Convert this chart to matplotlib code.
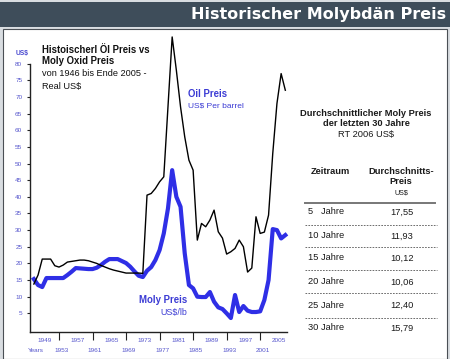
import matplotlib
matplotlib.use("Agg")
import matplotlib.pyplot as plt
from matplotlib.patches import Rectangle
from matplotlib.lines import Line2D

plt.rcParams['font.family'] = ['Liberation Sans', 'DejaVu Sans']

# ---- data (annual) ----
years = list(range(1947, 2008))
oil = [13.8, 16.5, 21.3, 21.3, 21.3, 19.3, 18.9, 19.5, 20.4, 20.6,
       20.8, 21.0, 21.0, 20.8, 20.4, 20.0, 19.4, 18.9, 18.4, 18.0,
       17.7, 17.4, 17.1, 17.1, 17.1, 17.1, 17.0, 40.5, 41.0, 42.5,
       44.5, 46.0, 67.0, 88.0, 78.0, 67.0, 58.0, 51.0, 48.0, 27.0,
       32.0, 31.0, 33.0, 36.0, 29.5, 27.6, 22.8, 23.5, 24.5, 27.0,
       25.0, 17.4, 18.6, 34.0, 29.0, 29.4, 34.5, 53.0, 68.0, 77.0,
       72.0]
moly = [15.3, 13.5, 12.9, 15.6, 15.6, 15.6, 15.6, 15.6, 16.5, 17.5,
        18.6, 18.5, 18.4, 18.3, 18.3, 18.7, 19.5, 20.5, 21.3, 21.3,
        21.3, 20.7, 20.1, 19.0, 17.6, 16.3, 15.9, 17.8, 18.9, 21.0,
        24.0, 29.0, 36.5, 48.0, 40.0, 37.0, 23.0, 13.5, 12.5, 10.0,
        9.9, 9.9, 11.4, 8.5, 6.8, 6.3, 5.0, 3.6, 10.5, 5.4,
        7.2, 5.8, 5.4, 5.4, 5.6, 9.0, 15.0, 30.3, 30.0, 27.5,
        28.5]
y_ticks = list(range(5, 85, 5))
x_tick_years = [1953, 1961, 1969, 1977, 1985, 1993, 2001]
x_label_top = [1949, 1957, 1965, 1973, 1981, 1989, 1997, 2005]
x_label_bot = [1953, 1961, 1969, 1977, 1985, 1993, 2001]

periods = ["5   Jahre", "10 Jahre", "15 Jahre", "20 Jahre", "25 Jahre", "30 Jahre"]
avg_prices = ["17,55", "11,93", "10,12", "10,06", "12,40", "15,79"]

W, H = 450, 359
fig = plt.figure(figsize=(W / 100, H / 100), dpi=100)
fig.patch.set_facecolor('#d9dde1')

def fx(x):
    return x / W

def fy(y):
    return 1 - y / H

# background panels
fig.patches.append(Rectangle((0, fy(27)), 1, fy(2) - fy(27), transform=fig.transFigure,
                             facecolor='#3e4d5a', edgecolor='none', zorder=-10))
fig.patches.append(Rectangle((fx(3), 0), fx(447) - fx(3), fy(29), transform=fig.transFigure,
                             facecolor='white', edgecolor='#4a4f55', lw=0.8, zorder=-10))

fig.text(fx(446), fy(15), "Historischer Molybdän Preis", color='white', fontsize=11.5,
         fontweight='bold', ha='right', va='center', family=['DejaVu Sans'])

# axes
ax_left, ax_right, ax_bot, ax_top = 30, 287, 332, 63.6
ax = fig.add_axes([fx(ax_left), fy(ax_bot), fx(ax_right) - fx(ax_left), fy(ax_top) - fy(ax_bot)])
ax.set_zorder(1)
ax.set_facecolor('none')
ax.set_xlim(1946.08, 2007.4)
ax.set_ylim(-0.6, 80)
for s in ['top', 'right']:
    ax.spines[s].set_visible(False)
ax.spines['left'].set_color('#222222')
ax.spines['bottom'].set_color('#222222')
ax.spines['left'].set_linewidth(1.0)
ax.spines['bottom'].set_linewidth(1.0)

ax.plot(years, moly, color='#2f2fe6', lw=3.0, solid_joinstyle='round', clip_on=False, zorder=3)
ax.plot(years, oil, color='black', lw=1.0, clip_on=False, zorder=4)

ax.set_yticks(y_ticks)
ax.set_yticklabels([str(v) for v in y_ticks])
ax.tick_params(axis='y', direction='out', length=2.5, width=0.8, pad=3,
               labelsize=4.6, labelcolor='#5555cc', color='#222222')
ax.set_xticks(x_tick_years)
ax.set_xticklabels([''] * len(x_tick_years))
ax.tick_params(axis='x', direction='out', length=5.5, width=0.8, color='#222222')

axh = ax_bot - ax_top
xt = ax.get_xaxis_transform()
for yr in x_label_top:
    ax.text(yr + 0.5, -(340 - ax_bot) / axh, str(yr), transform=xt, ha='center', va='center',
            fontsize=4.6, color='#5555cc', clip_on=False)
for yr in x_label_bot:
    ax.text(yr + 0.6, -(351 - ax_bot) / axh, str(yr), transform=xt, ha='center', va='center',
            fontsize=4.6, color='#5555cc', clip_on=False)
fig.text(fx(36), fy(351), "Years", fontsize=4.6, color='#5555cc', ha='center', va='center')
fig.text(fx(22), fy(53), "US$", fontsize=4.8, color='#4a4ad0', ha='center', va='center',
         fontweight='bold')

# chart texts
fig.text(fx(42), fy(50), "Histoischerl Öl Preis vs", fontsize=6.9, fontweight='bold',
         color='#111111', va='center')
fig.text(fx(42), fy(61.5), "Moly Oxid Preis", fontsize=6.9, fontweight='bold',
         color='#111111', va='center')
fig.text(fx(42), fy(73), "von 1946 bis Ende 2005 -", fontsize=6.6, color='#111111', va='center')
fig.text(fx(42), fy(86), "Real US$", fontsize=6.6, color='#111111', va='center')

fig.text(fx(188), fy(94), "Oil Preis", fontsize=6.9, fontweight='bold', color='#3b3bd4', va='center')
fig.text(fx(188), fy(106), "US$ Per barrel", fontsize=6.0, color='#3b3bd4', va='center')
fig.text(fx(187), fy(300), "Moly Preis", fontsize=6.9, fontweight='bold', color='#3b3bd4',
         va='center', ha='right')
fig.text(fx(187), fy(312), "US$/lb", fontsize=6.4, color='#3b3bd4', va='center', ha='right')

# table
tc = '#1a1a1a'
fs = 6.7
fig.text(fx(366), fy(113), "Durchschnittlicher Moly Preis", fontsize=fs, fontweight='bold',
         color=tc, ha='center', va='center')
fig.text(fx(366), fy(124), "der letzten 30 Jahre", fontsize=fs, fontweight='bold',
         color=tc, ha='center', va='center')
fig.text(fx(366), fy(135), "RT 2006 US$", fontsize=fs, color=tc, ha='center', va='center')
fig.text(fx(330), fy(171), "Zeitraum", fontsize=fs, fontweight='bold', color=tc,
         ha='center', va='center')
fig.text(fx(401), fy(171), "Durchschnitts-", fontsize=fs, fontweight='bold', color=tc,
         ha='center', va='center')
fig.text(fx(401), fy(182), "Preis", fontsize=fs, fontweight='bold', color=tc,
         ha='center', va='center')
fig.text(fx(401), fy(193), "US$", fontsize=5.2, color=tc, ha='center', va='center')
fig.lines.append(Line2D([fx(305), fx(435)], [fy(203), fy(203)], transform=fig.transFigure,
                        color='#777777', lw=1.4))
row_y = [212, 236, 258, 282, 305, 328]
dash_y = [225, 247, 270, 293, 318]
for p, v, yy in zip(periods, avg_prices, row_y):
    fig.text(fx(308), fy(yy), p, fontsize=fs, color=tc, ha='left', va='center')
    fig.text(fx(402), fy(yy), v, fontsize=fs, color=tc, ha='center', va='center')
for yy in dash_y:
    fig.lines.append(Line2D([fx(305), fx(437)], [fy(yy), fy(yy)], transform=fig.transFigure,
                            color='#555555', lw=0.6, ls=(0, (2, 1.5))))

fig.savefig("out.png", dpi=100, facecolor=fig.get_facecolor())
